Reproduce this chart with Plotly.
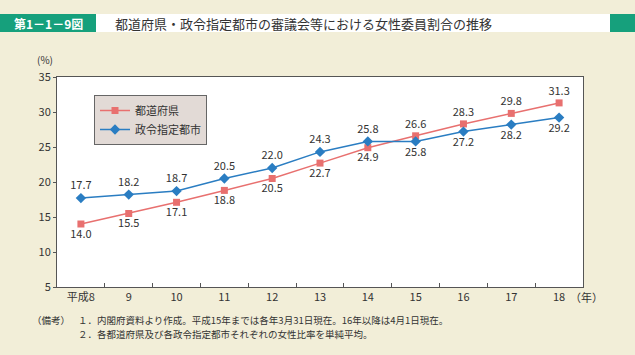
import plotly.graph_objects as go

years = ["平成8", "9", "10", "11", "12", "13", "14", "15", "16", "17", "18"]
pref = [14.0, 15.5, 17.1, 18.8, 20.5, 22.7, 24.9, 26.6, 28.3, 29.8, 31.3]
city = [17.7, 18.2, 18.7, 20.5, 22.0, 24.3, 25.8, 25.8, 27.2, 28.2, 29.2]
pref_pos = ["bottom center"] * 7 + ["top center"] * 4
city_pos = ["top center"] * 7 + ["bottom center"] * 4

FONT = "Noto Sans CJK JP"
RED = "#E8706F"
BLUE = "#2A7DC2"
GREEN = "#16A07C"
BG = "#F2EED8"

L, T, W, H = 57, 77, 526, 210


def px(x):
    return (x - L) / W


def py(y):
    return (T + H - y) / H


fig = go.Figure()
fig.add_trace(go.Scatter(
    x=years, y=pref, name="都道府県", mode="lines+markers+text",
    line=dict(color=RED, width=1.5),
    marker=dict(symbol="square", size=7, color=RED),
    text=[f"{v:.1f}" for v in pref], textposition=pref_pos,
    textfont=dict(size=11, color="#333", family=FONT),
))
fig.add_trace(go.Scatter(
    x=years, y=city, name="政令指定都市", mode="lines+markers+text",
    line=dict(color=BLUE, width=1.5),
    marker=dict(symbol="diamond", size=8, color=BLUE),
    text=[f"{v:.1f}" for v in city], textposition=city_pos,
    textfont=dict(size=11, color="#333", family=FONT),
))

fig.update_layout(
    width=635, height=355,
    margin=dict(l=L, r=635 - L - W, t=T, b=355 - T - H),
    paper_bgcolor=BG, plot_bgcolor="white",
    font=dict(family=FONT, size=11, color="#333"),
    showlegend=True,
    legend=dict(
        x=px(94), y=py(95), xanchor="left", yanchor="top",
        bgcolor="#E2DAD6", bordercolor="#666", borderwidth=1,
        font=dict(size=11, color="#333", family=FONT),
        tracegroupgap=0, itemwidth=30,
    ),
    xaxis=dict(
        type="category", range=[-0.5, 10.5],
        showgrid=False, showline=True, linecolor="#555", linewidth=1, mirror=True,
        ticks="inside", tickson="boundaries", ticklen=4, tickcolor="#555",
        tickfont=dict(size=11, color="#333"),
    ),
    yaxis=dict(
        range=[5, 35], dtick=5, showgrid=False, zeroline=False,
        showline=True, linecolor="#555", linewidth=1, mirror=True,
        ticks="outside", ticklen=3, tickcolor="#555",
        tickfont=dict(size=11, color="#333"),
    ),
    shapes=[
        dict(type="rect", xref="paper", yref="paper", x0=px(0), x1=px(96),
             y0=py(32), y1=py(14),
             fillcolor=GREEN, line=dict(width=0), layer="below"),
        dict(type="rect", xref="paper", yref="paper", x0=px(96), x1=px(610),
             y0=py(32), y1=py(14),
             fillcolor="white", line=dict(width=0), layer="below"),
        dict(type="rect", xref="paper", yref="paper", x0=px(610), x1=px(635),
             y0=py(32), y1=py(14),
             fillcolor=GREEN, line=dict(width=0), layer="below"),
    ],
    annotations=[
        dict(text="<b>第1－1－9図</b>", xref="paper", yref="paper",
             x=px(48), y=py(23), xanchor="center", yanchor="middle",
             showarrow=False, font=dict(size=12, color="white", family=FONT)),
        dict(text="都道府県・政令指定都市の審議会等における女性委員割合の推移", xref="paper", yref="paper",
             x=px(113), y=py(23), xanchor="left", yanchor="middle",
             showarrow=False, font=dict(size=13, color="#333", family=FONT)),
        dict(text="(%)", xref="paper", yref="paper",
             x=px(45), y=py(59), xanchor="center", yanchor="middle",
             showarrow=False, font=dict(size=10, color="#333", family=FONT)),
        dict(text="（年）", xref="paper", yref="paper",
             x=px(568), y=py(297), xanchor="left", yanchor="middle",
             showarrow=False, font=dict(size=11, color="#333", family=FONT)),
        dict(text="（備考）", xref="paper", yref="paper",
             x=px(30), y=py(320), xanchor="left", yanchor="middle",
             showarrow=False, font=dict(size=9.5, color="#333", family=FONT)),
        dict(text="１．内閣府資料より作成。平成15年までは各年3月31日現在。16年以降は4月1日現在。",
             xref="paper", yref="paper",
             x=px(76), y=py(320), xanchor="left", yanchor="middle",
             showarrow=False, font=dict(size=9.5, color="#333", family=FONT)),
        dict(text="２．各都道府県及び各政令指定都市それぞれの女性比率を単純平均。",
             xref="paper", yref="paper",
             x=px(76), y=py(334), xanchor="left", yanchor="middle",
             showarrow=False, font=dict(size=9.5, color="#333", family=FONT)),
    ],
)

fig.write_html(
    "out.html",
    config={"displayModeBar": False},
    post_script="document.body.style.margin='0';document.body.style.background='" + BG + "';",
)
